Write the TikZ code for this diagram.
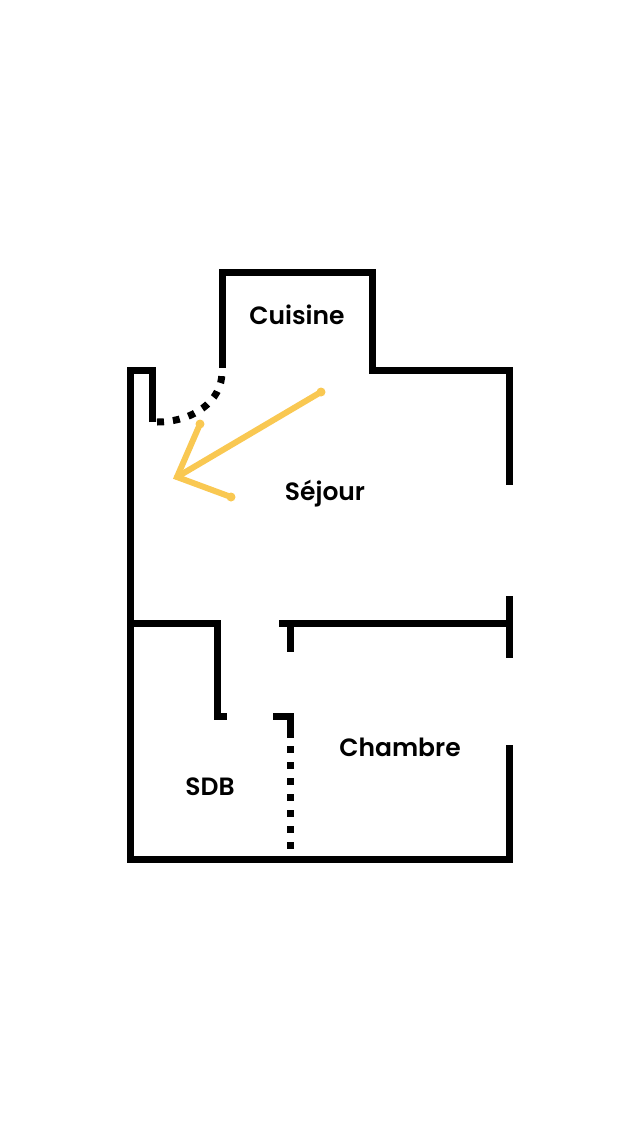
\documentclass[tikz,border=0pt]{standalone}
\usepackage{fontspec}
\setmainfont{Poppins}[UprightFont=* SemiBold]
\begin{document}
\begin{tikzpicture}[x=1pt,y=-1pt,
    wall/.style={line width=7pt,line join=miter},
    dots/.style={line width=7pt,dash pattern=on 7pt off 9pt},
    hint/.style={line width=6pt,line cap=round,color=arrowyellow},
    room/.style={font=\fontsize{25}{28}\selectfont}]
  \definecolor{arrowyellow}{HTML}{F9C852}
  \useasboundingbox (0,0) rectangle (640,1136);
  % labels
  \draw
    (297,315) node[room] (cuisine){Cuisine}
    (325,494) node[room] (sejour){Séjour}
    (400,747) node[room] (chambre){Chambre}
    (210,787) node[room] (sdb){SDB};
  % walls
  \begin{scope}[wall]
    \draw (152,422) -- (152,370) -- (130,370) -- (130,859) -- (509,859) -- (509,745);
    \draw (222,368) -- (222,272) -- (372,272) -- (372,370) -- (509,370) -- (509,485);
    \draw (509,596) -- (509,658);
    \draw (130,623) -- (217,623) -- (217,716) -- (227,716);
    \draw (279,623) -- (509,623);
    \draw (290,623) -- (290,652);
    \draw (273,716) -- (290,716) -- (290,738);
  \end{scope}
  % doors
  \begin{scope}[dots]
    \draw (157,422) .. controls (192,422) and (222,402) .. (222,372);
    \draw (290,746) -- (290,858);
  \end{scope}
  % arrow
  \coordinate (tip) at (177,477);
  \coordinate (tail) at (321,392);
  \coordinate (barb1) at (200,424);
  \coordinate (barb2) at (231,497);
  \begin{scope}[hint]
    \draw (tail) -- (tip);
    \draw (barb1) -- (tip) -- (barb2);
    \foreach \p in {tail,barb1,barb2}
      \fill (\p) circle (4.5pt);
  \end{scope}
\end{tikzpicture}
\end{document}
